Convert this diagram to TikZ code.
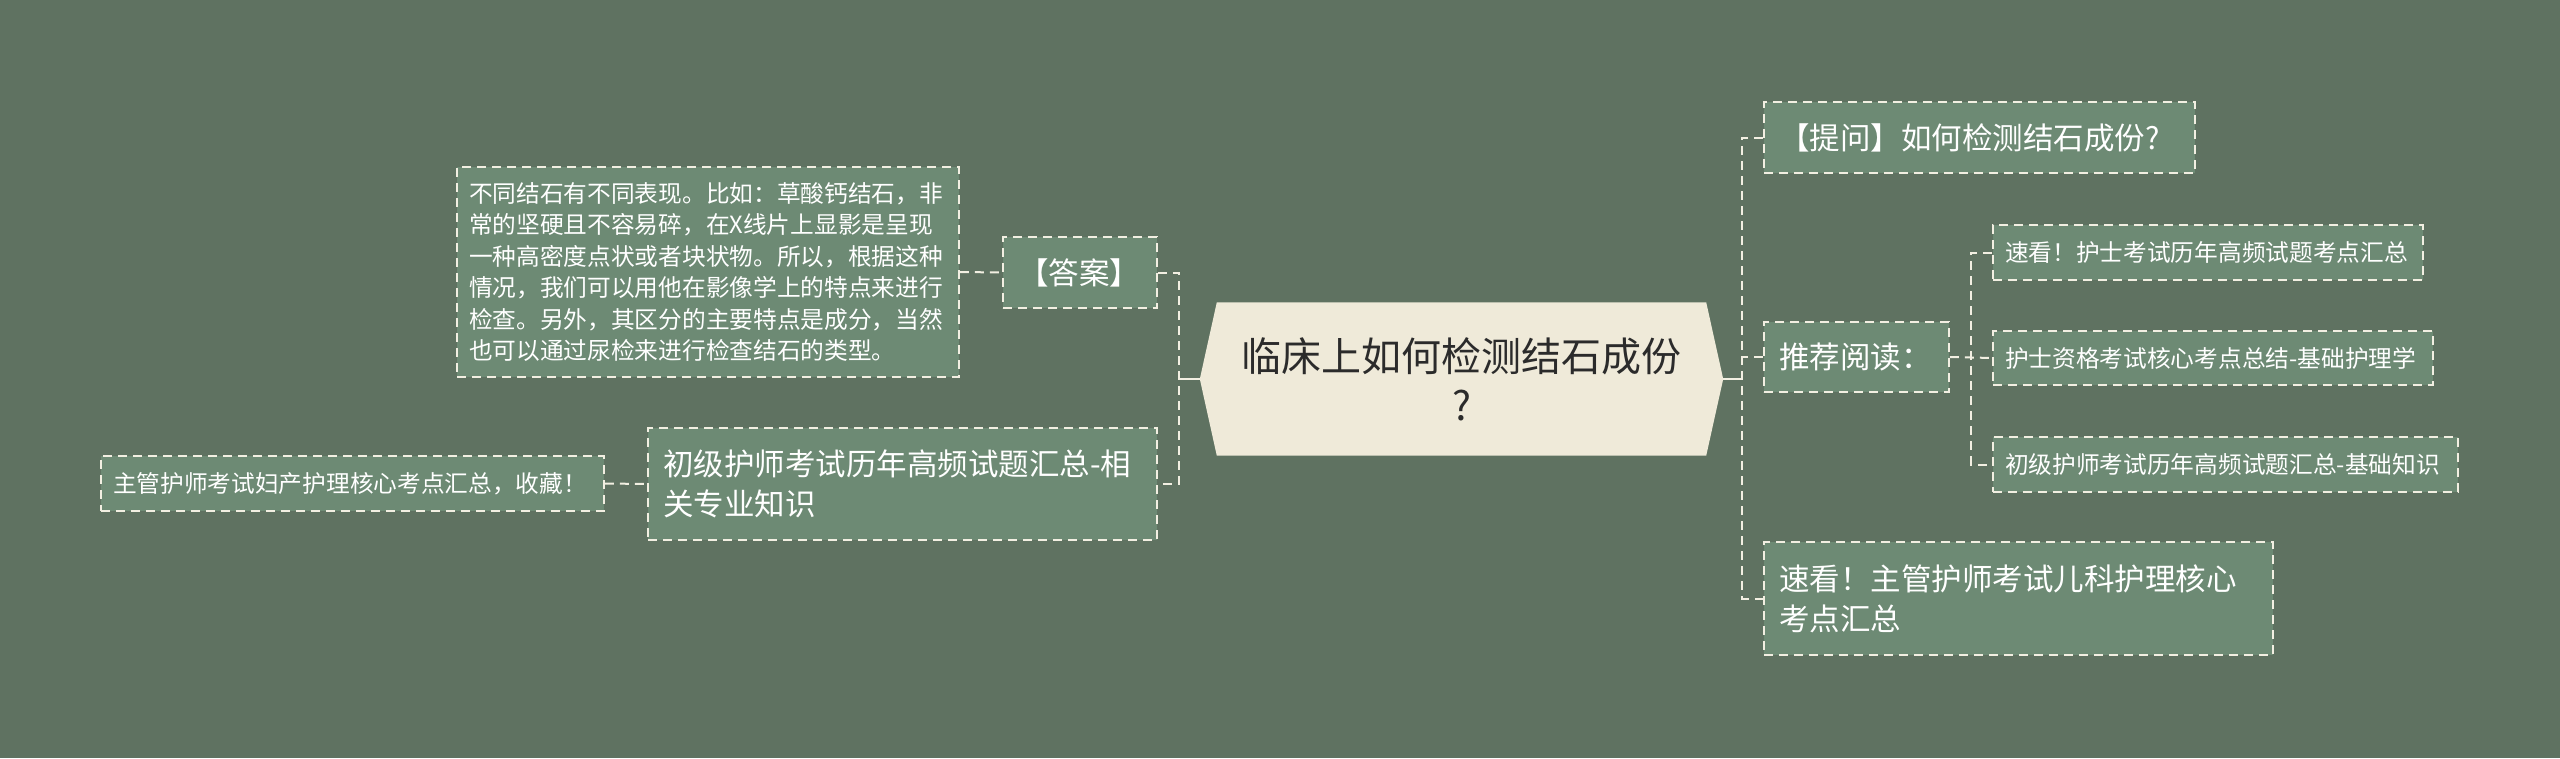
\documentclass[tikz,border=0pt]{standalone}
\usepackage{fontspec}
\setmainfont{Noto Sans CJK SC}
\usetikzlibrary{backgrounds}
\definecolor{bgcol}{HTML}{5F7261}
\definecolor{boxcol}{HTML}{6D8A74}
\definecolor{edgecol}{HTML}{F2EFE2}
\definecolor{rootcol}{HTML}{EFEAD9}
\definecolor{roottext}{HTML}{2B2B2B}

\begin{document}
\begin{tikzpicture}[
    x=1pt, y=-1pt,
    leaf/.style={draw=edgecol, fill=boxcol, text=white, line width=1.8pt,
        dash pattern=on 9pt off 6pt, align=left, inner ysep=0pt},
    big/.style={leaf, font=\fontsize{30.5}{40}\selectfont, inner xsep=15pt},
    small/.style={leaf, font=\fontsize{23.7}{31.4}\selectfont, inner xsep=12pt},
    link/.style={draw=edgecol, line width=2pt, dash pattern=on 9pt off 6pt},
    stem/.style={draw=edgecol, line width=2pt}
    ]
    \useasboundingbox (0,0) rectangle (2560,758);

    % centre
    \node[minimum width=523pt, minimum height=153pt, align=center, text=roottext,
        font=\fontsize{40}{49}\selectfont] (root) at (1461.5,379)
        {临床上如何检测结石成份\\?};

    % left side
    \node[big, text width=124pt, minimum height=71pt] (ans) at (1080,272.5) {【答案】};
    \node[small, text width=478pt, minimum height=210pt] (anstext) at (708,272)
        {不同结石有不同表现。比如：草酸钙结石，非\\常的坚硬且不容易碎，在X线片上显影是呈现\\一种高密度点状或者块状物。所以，根据这种\\情况，我们可以用他在影像学上的特点来进行\\检查。另外，其区分的主要特点是成分，当然\\也可以通过尿检来进行检查结石的类型。};
    \node[big, text width=479pt, minimum height=112pt] (rel1) at (902.5,484)
        {初级护师考试历年高频试题汇总-相\\关专业知识};
    \node[small, text width=479pt, minimum height=55pt] (rel1a) at (352.5,483.5)
        {主管护师考试妇产护理核心考点汇总，收藏！};

    % right side
    \node[big, text width=401pt, minimum height=71pt] (ask) at (1979.5,137.5) {【提问】如何检测结石成份?};
    \node[big, text width=155pt, minimum height=70pt] (read) at (1856.5,357) {推荐阅读：};
    \node[small, text width=406pt, minimum height=55pt] (r1) at (2208,252.5) {速看！护士考试历年高频试题考点汇总};
    \node[small, text width=416pt, minimum height=54pt] (r2) at (2213,358) {护士资格考试核心考点总结-基础护理学};
    \node[small, text width=441pt, minimum height=55pt] (r3) at (2225.5,464.5) {初级护师考试历年高频试题汇总-基础知识};
    \node[big, text width=479pt, minimum height=113pt] (last) at (2018.5,598.5)
        {速看！主管护师考试儿科护理核心\\考点汇总};

    \coordinate (lj) at (1179,379);
    \coordinate (rj) at (1742,379);
    \coordinate (sj) at (1971,357);

    % connectors
    \draw[stem] (root.west) -- (lj);
    \draw[stem] (root.east) -- (rj);
    \draw[link] (ans.east) -| (lj) |- (rel1.east);
    \draw[link] (anstext.east) -- (ans.west);
    \draw[link] (rel1a.east) -- (rel1.west);
    \draw[link] (ask.west) -| (rj) |- (last.west);
    \draw[link] (read.west) -- (rj |- read.west);
    \draw[link] (r1.west) -| (sj) |- (r3.west);
    \draw[link] (read.east) -- (r2.west);

    \begin{pgfonlayer}{background}
        \fill[bgcol] (0,0) rectangle (2560,758);
        \fill[rootcol] (root.west) -- ([xshift=17pt]root.north west) -- ([xshift=-17pt]root.north east)
            -- (root.east) -- ([xshift=-17pt]root.south east) -- ([xshift=17pt]root.south west) -- cycle;
    \end{pgfonlayer}
\end{tikzpicture}
\end{document}
